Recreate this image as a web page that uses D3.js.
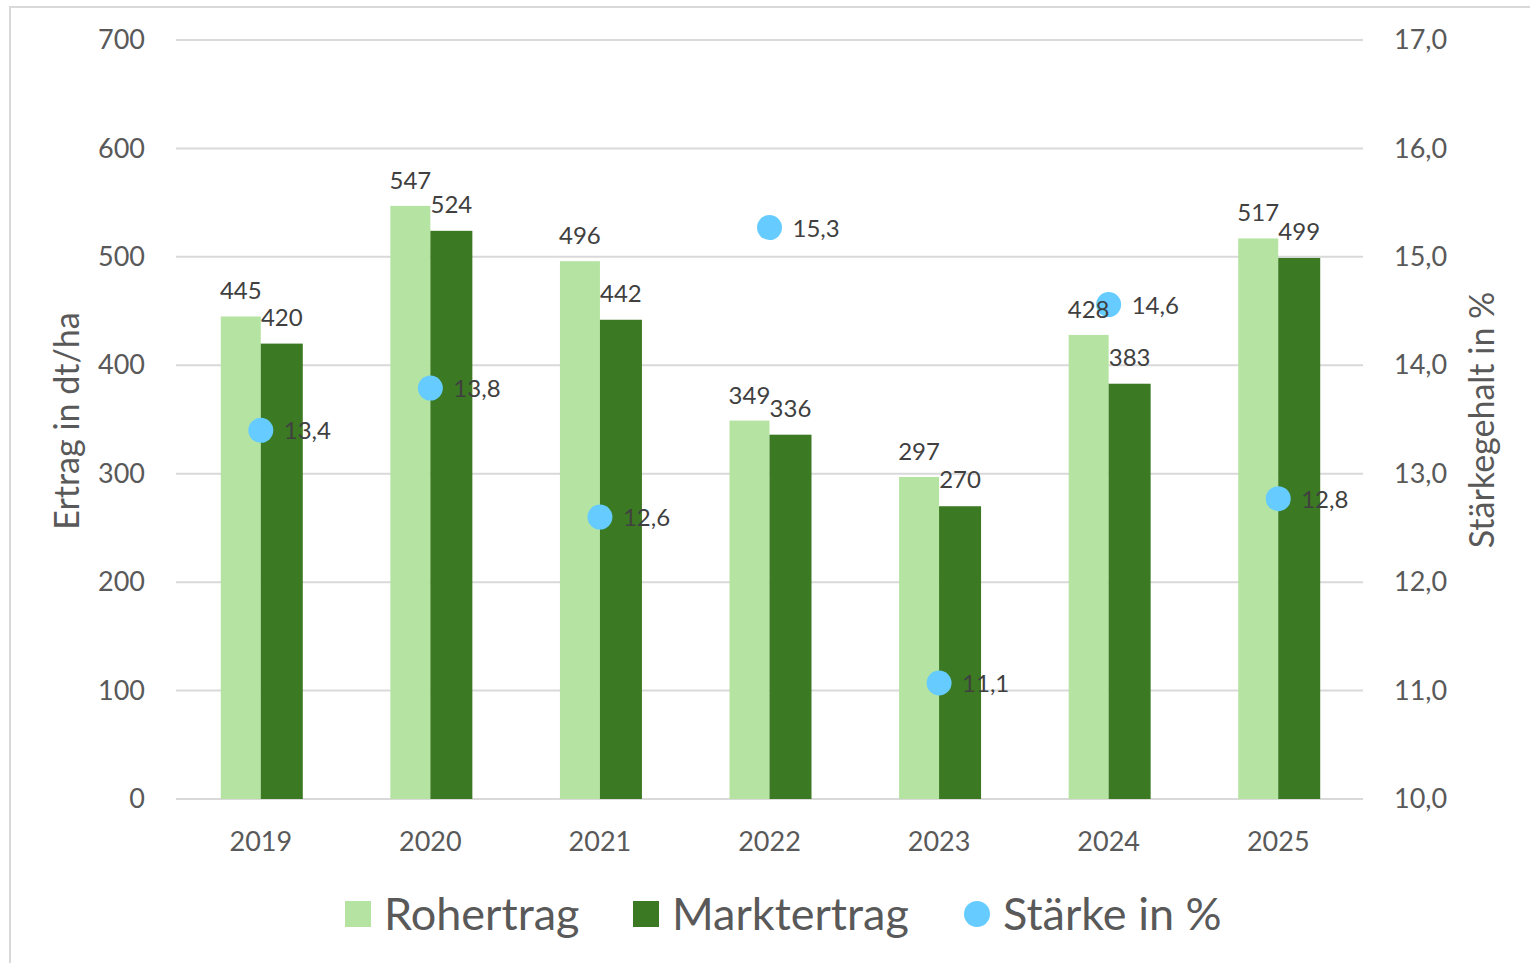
<!DOCTYPE html>
<html>
<head>
<meta charset="utf-8">
<script src="https://cdn.jsdelivr.net/npm/d3@7"></script>
<style>
  body { margin: 0; background: #fff; }
  text { font-family: Lato, "Open Sans", sans-serif; }
</style>
</head>
<body>
<div id="chart"></div>
<script>
const years = ["2019", "2020", "2021", "2022", "2023", "2024", "2025"];
const rohertrag = [445, 547, 496, 349, 297, 428, 517];
const marktertrag = [420, 524, 442, 336, 270, 383, 499];
const staerke = [13.4, 13.79, 12.6, 15.27, 11.07, 14.56, 12.77];
const leftTicks = [0, 100, 200, 300, 400, 500, 600, 700];
const rightTicks = [10, 11, 12, 13, 14, 15, 16, 17];

const W = 1530, H = 963;
const plot = { left: 176, right: 1363, top: 40, bottom: 799 };

const colors = { roh: "#b5e4a2", markt: "#3b7a22", staerke: "#66ccff" };

const svg = d3.select("#chart").append("svg")
  .attr("width", W).attr("height", H);

// outer border
svg.append("rect")
  .attr("x", 10).attr("y", 7)
  .attr("width", W + 10).attr("height", H + 10)
  .attr("fill", "none").attr("stroke", "#d9d9d9").attr("stroke-width", 2);

const x = d3.scaleBand().domain(years).range([plot.left, plot.right]);
const yL = d3.scaleLinear().domain([0, 700]).range([plot.bottom, plot.top]);
const yR = d3.scaleLinear().domain([10, 17]).range([plot.bottom, plot.top]);
const barW = 40;
const fmt = d => d3.format(".1f")(d).replace(".", ",");

// gridlines
svg.append("g").selectAll("line").data(leftTicks).join("line")
  .attr("x1", plot.left).attr("x2", plot.right)
  .attr("y1", d => yL(d)).attr("y2", d => yL(d))
  .attr("stroke", "#d9d9d9").attr("stroke-width", 2);

const tickText = g => g.selectAll("text").attr("font-size", 27).attr("fill", "#595959")
  .style("font-family", "Lato, sans-serif");

// left axis labels
svg.append("g").attr("transform", `translate(${plot.left},0)`)
  .call(d3.axisLeft(yL).tickValues(leftTicks).tickSize(0).tickPadding(31))
  .call(g => g.select(".domain").remove())
  .call(tickText);

// right axis labels
svg.append("g").attr("transform", `translate(${plot.right},0)`)
  .call(d3.axisRight(yR).tickValues(rightTicks).tickSize(0).tickPadding(31).tickFormat(fmt))
  .call(g => g.select(".domain").remove())
  .call(tickText);

// x axis labels
svg.append("g").attr("transform", `translate(0,${plot.bottom})`)
  .call(d3.axisBottom(x).tickSize(0).tickPadding(33))
  .call(g => g.select(".domain").remove())
  .call(tickText);

const cx = d => x(d) + x.bandwidth() / 2;

// bars
svg.append("g").selectAll("rect").data(years).join("rect")
  .attr("x", d => cx(d) - barW)
  .attr("y", (d, i) => yL(rohertrag[i]))
  .attr("width", barW)
  .attr("height", (d, i) => yL(0) - yL(rohertrag[i]))
  .attr("fill", colors.roh);

svg.append("g").selectAll("rect").data(years).join("rect")
  .attr("x", d => cx(d))
  .attr("y", (d, i) => yL(marktertrag[i]))
  .attr("width", barW + 2)
  .attr("height", (d, i) => yL(0) - yL(marktertrag[i]))
  .attr("fill", colors.markt);

// Stärke points
svg.append("g").selectAll("circle").data(years).join("circle")
  .attr("cx", d => cx(d))
  .attr("cy", (d, i) => yR(staerke[i]))
  .attr("r", 12.5)
  .attr("fill", colors.staerke);

// data labels (drawn above all marks)
const labelStyle = sel => sel.attr("font-size", 24).attr("fill", "#404040")
  .attr("text-anchor", "middle");

svg.append("g").selectAll("text").data(years).join("text")
  .attr("x", d => cx(d) - barW / 2)
  .attr("y", (d, i) => yL(rohertrag[i]) - 17)
  .text((d, i) => rohertrag[i])
  .call(labelStyle);

svg.append("g").selectAll("text").data(years).join("text")
  .attr("x", d => cx(d) + barW / 2 + 1)
  .attr("y", (d, i) => yL(marktertrag[i]) - 18)
  .text((d, i) => marktertrag[i])
  .call(labelStyle);

svg.append("g").selectAll("text").data(years).join("text")
  .attr("x", d => cx(d) + 23)
  .attr("y", (d, i) => yR(staerke[i]) + 9)
  .text((d, i) => fmt(staerke[i]))
  .attr("font-size", 24).attr("fill", "#404040");

// axis titles
svg.append("text")
  .attr("transform", "translate(79,421) rotate(-90)")
  .attr("text-anchor", "middle")
  .attr("font-size", 34).attr("fill", "#595959")
  .text("Ertrag in dt/ha");

svg.append("text")
  .attr("transform", "translate(1494,420) rotate(-90)")
  .attr("text-anchor", "middle")
  .attr("font-size", 34).attr("fill", "#595959")
  .text("Stärkegehalt in %");

// legend
const legend = svg.append("g").attr("font-size", 45).attr("fill", "#595959");
const legendItems = [
  { label: "Rohertrag", color: colors.roh, shape: "rect", x: 345 },
  { label: "Marktertrag", color: colors.markt, shape: "rect", x: 633 },
  { label: "Stärke in %", color: colors.staerke, shape: "circle", x: 964 }
];
legendItems.forEach(item => {
  if (item.shape === "rect") {
    legend.append("rect").attr("x", item.x).attr("y", 901)
      .attr("width", 26).attr("height", 26).attr("fill", item.color);
  } else {
    legend.append("circle").attr("cx", item.x + 13).attr("cy", 914)
      .attr("r", 13).attr("fill", item.color);
  }
  legend.append("text").attr("x", item.x + 39).attr("y", 930)
    .text(item.label);
});
</script>
</body>
</html>
